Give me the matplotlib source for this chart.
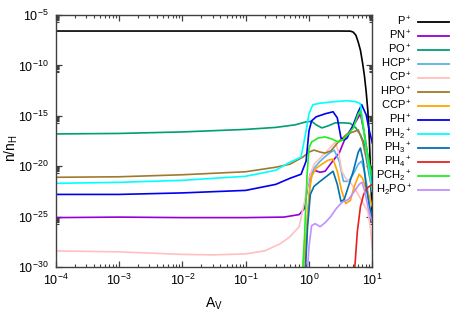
import matplotlib
matplotlib.use("Agg")
import matplotlib.pyplot as plt
from matplotlib.lines import Line2D
from matplotlib.ticker import FixedLocator, LogFormatterSciNotation, NullFormatter
import numpy as np

plt.rcParams['font.family'] = ['Liberation Sans', 'DejaVu Sans']
plt.rcParams['mathtext.fontset'] = 'custom'
plt.rcParams['mathtext.rm'] = 'Liberation Sans'
plt.rcParams['mathtext.it'] = 'Liberation Sans:italic'
plt.rcParams['mathtext.bf'] = 'Liberation Sans:bold'

# --- data: (A_V, log10 n/nH) ---
p_av = [1e-4, 1e-3, 1e-2, 0.1, 1.0, 3.0, 4.5, 5.0, 5.5, 6.0, 6.5, 7.0, 7.5, 8.0, 8.5, 9.0, 9.5, 10]
p_log = [-6.59, -6.59, -6.59, -6.59, -6.59, -6.59, -6.6, -6.7, -7.0, -7.7, -8.5, -9.7, -11.0, -12.6, -14.5, -17.5, -21.5, -25.5]

pn_av = [1e-4, 1e-3, 1e-2, 0.1, 0.4, 0.7, 0.85, 0.95, 1.05, 1.2, 1.5, 1.8, 2.3, 3.0, 3.8, 5.0, 6.5, 7.5, 8.5, 10]
pn_log = [-25.1, -25.05, -25.1, -25.1, -25.05, -24.8, -24.2, -22.0, -20.8, -20.4, -20.6, -20.5, -19.6, -18.7, -17.1, -16.0, -14.8, -16.8, -19.0, -22.0]

po_av = [1e-4, 1e-3, 1e-2, 0.1, 0.3, 0.6, 0.9, 1.1, 1.3, 1.6, 2.0, 2.6, 3.5, 4.5, 5.5, 6.5, 7.5, 8.5, 10]
po_log = [-16.8, -16.75, -16.6, -16.35, -16.15, -15.9, -15.6, -15.55, -15.9, -16.2, -16.0, -15.7, -15.7, -15.75, -16.2, -16.9, -17.8, -19.0, -21.5]

hcp_av = [0.85, 0.95, 1.05, 1.2, 1.5, 2.0, 2.5, 3.0, 3.5, 4.2, 5.0, 6.0, 6.8, 7.5, 8.5, 9.3, 10]
hcp_log = [-32, -25, -21.5, -20.2, -19.5, -18.8, -18.4, -19.5, -21.5, -21.5, -20.8, -19.8, -19.5, -20.5, -22.5, -24.5, -25.5]

cp_av = [1e-4, 1e-3, 1e-2, 0.03, 0.1, 0.2, 0.35, 0.5, 0.7, 0.85, 1.0, 1.2, 1.5, 2.0, 2.6, 2.9, 3.3, 3.8, 4.5, 5.5, 6.5, 7.5, 8.5, 9.3, 10]
cp_log = [-28.4, -28.5, -28.75, -28.8, -28.7, -28.4, -27.7, -27.0, -26.0, -23.5, -21.2, -19.8, -19.2, -18.4, -17.6, -18.5, -20.5, -21.2, -21.6, -22.4, -23.2, -23.9, -24.5, -26.0, -28.2]

hpo_av = [1e-4, 1e-3, 1e-2, 0.1, 0.3, 0.5, 0.8, 1.0, 1.2, 1.5, 1.8, 2.2, 3.0, 4.0, 5.0, 6.0, 7.0, 8.0, 9.0, 10]
hpo_log = [-21.1, -21.05, -20.85, -20.55, -20.1, -19.8, -19.1, -18.6, -18.4, -18.6, -18.7, -18.5, -17.5, -16.8, -16.6, -16.4, -17.5, -19.2, -21.0, -22.5]

ccp_av = [0.8, 0.9, 1.0, 1.1, 1.3, 1.6, 2.0, 2.4, 2.8, 3.3, 3.8, 4.5, 5.2, 6.2, 7.0, 8.0, 9.0, 10]
ccp_log = [-31, -27, -23, -21.0, -20.2, -19.8, -19.4, -19.3, -20.5, -22.5, -23.7, -23.4, -22.0, -20.8, -21.2, -22.3, -23.0, -24.0]

ph_av = [1e-4, 1e-3, 1e-2, 0.1, 0.3, 0.5, 0.75, 0.9, 1.0, 1.1, 1.3, 1.8, 2.4, 2.8, 3.2, 3.6, 4.0, 5.0, 6.0, 6.8, 8.0, 9.0, 10]
ph_log = [-22.8, -22.8, -22.65, -22.4, -21.8, -21.2, -20.8, -19.5, -16.5, -15.5, -15.1, -14.8, -14.6, -15.2, -17.2, -17.4, -17.2, -15.9, -14.6, -13.9, -14.9, -16.5, -17.7]

ph2_av = [1e-4, 1e-3, 1e-2, 0.1, 0.3, 0.5, 0.75, 0.9, 1.0, 1.15, 1.5, 2.5, 4.0, 5.5, 6.5, 7.5, 8.5, 10]
ph2_log = [-21.7, -21.6, -21.4, -21.0, -20.4, -19.6, -19.1, -16.5, -14.8, -13.9, -13.75, -13.6, -13.5, -13.6, -13.8, -17.0, -19.5, -22.5]

ph3_av = [0.85, 0.95, 1.05, 1.2, 1.5, 1.9, 2.4, 2.8, 3.2, 3.6, 4.2, 5.0, 6.0, 6.5, 7.2, 8.0, 9.0, 10]
ph3_log = [-32, -26, -22.8, -22.0, -21.5, -21.0, -20.5, -21.8, -23.5, -23.3, -22.0, -20.5, -18.6, -18.2, -19.5, -22.0, -24.0, -25.0]

ph4_av = [5.0, 5.3, 5.8, 6.5, 7.3, 8.2, 9.0, 10]
ph4_log = [-31, -30, -26.5, -24.0, -22.8, -22.2, -22.0, -21.8]

pch2_av = [0.78, 0.85, 0.93, 1.0, 1.1, 1.4, 1.8, 2.3, 2.9, 3.4, 4.2, 5.0, 6.0, 6.5, 7.2, 8.0, 9.0, 10]
pch2_log = [-31, -27, -21, -18.2, -17.6, -17.2, -17.1, -17.3, -17.6, -17.4, -16.8, -16.2, -14.8, -14.5, -16.0, -18.0, -19.8, -21.0]

h2po_av = [0.93, 1.0, 1.1, 1.25, 1.5, 1.8, 2.2, 2.7, 3.3, 4.2, 5.2, 6.2, 6.9, 7.6, 8.5, 9.3, 10]
h2po_log = [-31, -28, -25.9, -25.7, -26.0, -25.6, -25.0, -24.2, -23.6, -23.3, -22.5, -21.8, -21.6, -22.5, -24.0, -25.0, -25.5]

labels = [r'P$^+$', r'PN$^+$', r'PO$^+$', r'HCP$^+$', r'CP$^+$', r'HPO$^+$', r'CCP$^+$',
          r'PH$^+$', r'PH$_2$$^+$', r'PH$_3$$^+$', r'PH$_4$$^+$', r'PCH$_2$$^+$', r'H$_2$PO$^+$']
colors = ['#000000', '#9400d3', '#009e73', '#56b4e9', '#ffc0c0', '#a07a2c', '#ffa500',
          '#0000f0', '#00ffff', '#0072b2', '#e8201a', '#22ee22', '#c090ff']
series = [(p_av, p_log), (pn_av, pn_log), (po_av, po_log), (hcp_av, hcp_log), (cp_av, cp_log),
          (hpo_av, hpo_log), (ccp_av, ccp_log), (ph_av, ph_log), (ph2_av, ph2_log),
          (ph3_av, ph3_log), (ph4_av, ph4_log), (pch2_av, pch2_log), (h2po_av, h2po_log)]

W, H = 463, 327
fig = plt.figure(figsize=(W / 100, H / 100), dpi=100)
x0, x1, y0, y1 = 55.7, 372.3, 15, 267
ax = fig.add_axes([x0 / W, 1 - y1 / H, (x1 - x0) / W, (y1 - y0) / H])

for (av, lg), c in zip(series, colors):
    ax.plot(av, 10.0 ** np.array(lg), color=c, lw=1.2, solid_joinstyle='round')

ax.set_xscale('log')
ax.set_yscale('log')
ax.set_xlim(1e-4, 10)
ax.set_ylim(1e-30, 1e-5)

ax.yaxis.set_major_locator(FixedLocator([10.0 ** e for e in range(-30, -4, 5)]))
ax.yaxis.set_minor_locator(FixedLocator([k * 10.0 ** (e - 1) for e in range(-25, -4, 5) for k in range(2, 10)]))
ax.xaxis.set_major_locator(FixedLocator([10.0 ** e for e in range(-4, 2)]))
ax.xaxis.set_minor_locator(FixedLocator([k * 10.0 ** e for e in range(-4, 1) for k in range(2, 10)]))
ax.xaxis.set_major_formatter(LogFormatterSciNotation())
ax.yaxis.set_major_formatter(LogFormatterSciNotation())
ax.xaxis.set_minor_formatter(NullFormatter())
ax.yaxis.set_minor_formatter(NullFormatter())

ax.tick_params(which='both', direction='in', top=True, right=True, colors='#404040', labelcolor='black', labelsize=9)
ax.tick_params(which='major', length=4, width=0.9)
ax.tick_params(which='minor', length=2.2, width=0.8)
ax.tick_params(axis='y', pad=5)
ax.tick_params(axis='x', pad=4)
for s in ax.spines.values():
    s.set_color('#404040')
    s.set_linewidth(1.0)

ax.set_xlabel(r'A$_{\rm V}$', fontsize=10)
ax.set_ylabel(r'n/n$_{\rm H}$', fontsize=10)
ax.xaxis.set_label_coords(0.5, -0.112)
ax.yaxis.set_label_coords(-0.112, 0.47)

# legend drawn at the right, text right-aligned before each sample line
for i, (lab, c) in enumerate(zip(labels, colors)):
    yy = 22 + 14 * i
    fig.text(412 / W, 1 - (yy + 3.8) / H, lab, ha='right', va='baseline', fontsize=8)
    fig.add_artist(Line2D([418 / W, 449 / W], [1 - yy / H, 1 - yy / H], color=c, lw=1.3,
                          transform=fig.transFigure))

fig.savefig('out.png', dpi=100)
